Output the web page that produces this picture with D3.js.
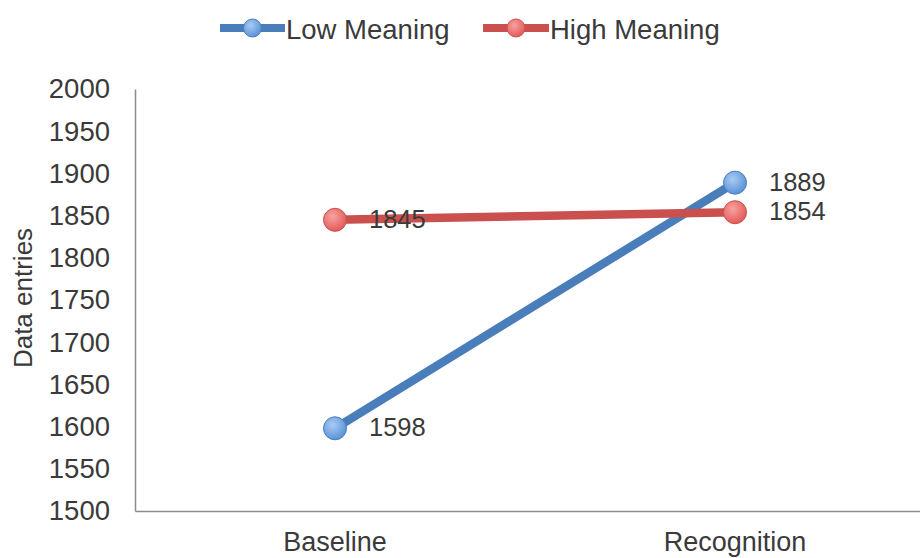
<!DOCTYPE html>
<html>
<head>
<meta charset="utf-8">
<script src="https://cdn.jsdelivr.net/npm/d3@7"></script>
<style>
  html, body { margin: 0; padding: 0; background: #fff; }
  svg { display: block; font-family: "Liberation Sans", Arial, sans-serif; }
</style>
</head>
<body>
<svg id="chart" width="920" height="558"></svg>
<script>
const categories = ["Baseline", "Recognition"];
const seriesNames = ["Low Meaning", "High Meaning"];
const lowMeaning = [1598, 1889];
const highMeaning = [1845, 1854];
const yTicks = [1500, 1550, 1600, 1650, 1700, 1750, 1800, 1850, 1900, 1950, 2000];
const yTitle = "Data entries";

const series = [
  { name: seriesNames[0], values: lowMeaning, line: "#4a7ebb", fillIn: "#a9cbf3", fillOut: "#5b93d8", stroke: "#4a7ebb", id: "gBlue" },
  { name: seriesNames[1], values: highMeaning, line: "#c9504d", fillIn: "#f7a3a1", fillOut: "#e25b58", stroke: "#c9504d", id: "gRed" }
];

const svg = d3.select("#chart");
const textColor = "#3a3a3a";

const defs = svg.append("defs");
series.forEach(s => {
  const g = defs.append("radialGradient").attr("id", s.id).attr("cx", "40%").attr("cy", "35%").attr("r", "65%");
  g.append("stop").attr("offset", "0%").attr("stop-color", s.fillIn);
  g.append("stop").attr("offset", "100%").attr("stop-color", s.fillOut);
});

const x = d3.scaleBand().domain(categories).range([135, 935]);
const y = d3.scaleLinear().domain([1500, 2000]).range([511, 89]);
const cx = c => x(c) + x.bandwidth() / 2;

// Y axis
const yAxis = svg.append("g").attr("transform", "translate(135,0)")
  .call(d3.axisLeft(y).tickValues(yTicks).tickSize(0).tickPadding(25).tickFormat(d3.format("d")));
yAxis.select(".domain").attr("stroke", "#8c8c8c").attr("stroke-width", 1.5);
yAxis.selectAll("text").attr("font-size", 27.5).attr("fill", textColor)
  .attr("font-family", "'Liberation Sans', Arial, sans-serif");

// X axis
const xAxis = svg.append("g").attr("transform", "translate(0,511)")
  .call(d3.axisBottom(x).tickSize(0).tickPadding(21));
xAxis.select(".domain").attr("stroke", "#8c8c8c").attr("stroke-width", 1.5);
xAxis.selectAll("text").attr("font-size", 27).attr("fill", textColor)
  .attr("font-family", "'Liberation Sans', Arial, sans-serif");

// Y title
svg.append("text")
  .attr("transform", "translate(32,298) rotate(-90)")
  .attr("text-anchor", "middle")
  .attr("font-size", 26)
  .attr("fill", textColor)
  .text(yTitle);

// Lines, markers, labels
const line = d3.line().x((d, i) => cx(categories[i])).y(d => y(d));
series.forEach(s => {
  svg.append("path").datum(s.values).attr("d", line)
    .attr("fill", "none").attr("stroke", s.line).attr("stroke-width", 8.5).attr("stroke-linecap", "round");
});
series.forEach(s => {
  svg.selectAll(null).data(s.values).enter().append("circle")
    .attr("cx", (d, i) => cx(categories[i])).attr("cy", d => y(d)).attr("r", 11.5)
    .attr("fill", `url(#${s.id})`).attr("stroke", s.stroke).attr("stroke-width", 1);
});
series.forEach(s => {
  svg.selectAll(null).data(s.values).enter().append("text")
    .attr("x", (d, i) => cx(categories[i]) + 34).attr("y", d => y(d) - 1)
    .attr("dominant-baseline", "central")
    .attr("font-size", 25.5).attr("fill", textColor)
    .text(d => d);
});

// Legend
const legendItems = [
  { s: series[0], x0: 220, w: 65 },
  { s: series[1], x0: 483, w: 66 }
];
legendItems.forEach(({ s, x0, w }) => {
  const g = svg.append("g").attr("transform", `translate(${x0},28)`);
  g.append("line").attr("x1", 0).attr("x2", w).attr("y1", 0).attr("y2", 0)
    .attr("stroke", s.line).attr("stroke-width", 8);
  g.append("circle").attr("cx", w / 2).attr("cy", 0).attr("r", 9)
    .attr("fill", `url(#${s.id})`).attr("stroke", s.stroke).attr("stroke-width", 1);
  g.append("text").attr("x", w + 1).attr("y", 1).attr("dominant-baseline", "central")
    .attr("font-size", 27.5).attr("fill", textColor).text(s.name);
});
</script>
</body>
</html>
